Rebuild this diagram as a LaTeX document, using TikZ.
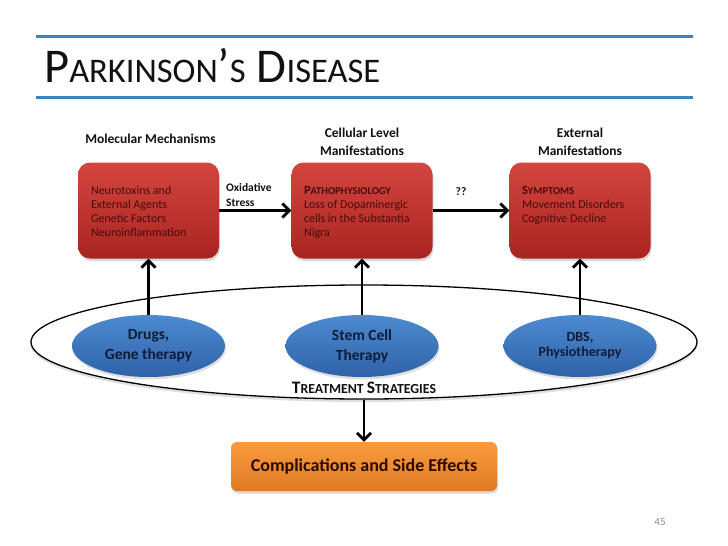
\documentclass[tikz,border=0pt]{standalone}
\usepackage{fontspec}
\setmainfont{Carlito}
\usetikzlibrary{shapes.geometric,shadows,arrows.meta}
\definecolor{lineblue}{HTML}{3A84C0}
\definecolor{redtop}{HTML}{D4463F}
\definecolor{redbot}{HTML}{A82421}
\definecolor{redtext}{HTML}{4A0B0B}
\definecolor{bluetop}{HTML}{4C8AD0}
\definecolor{bluebot}{HTML}{2F62A8}
\definecolor{bluetext}{HTML}{0F1C38}
\definecolor{orangetop}{HTML}{FA9C3E}
\definecolor{orangebot}{HTML}{DE7A24}
\definecolor{orangetext}{HTML}{2A0A02}
\definecolor{pagegray}{HTML}{8C8C8C}
\definecolor{titleblack}{HTML}{111111}
\newcommand\fsz[1]{\fontsize{#1}{#1}\selectfont}
\begin{document}
\begin{tikzpicture}[x=1pt,y=-1pt,
  redbox/.style={rounded corners=12pt, minimum width=141pt, minimum height=96pt, inner sep=0pt,
    top color=redtop, bottom color=redbot,
    drop shadow={shadow xshift=1pt,shadow yshift=-2.5pt,opacity=0.3}},
  boxtext/.style={anchor=north west, inner sep=0pt, align=left, text=redtext,
    font=\fontsize{12}{14}\selectfont},
  head/.style={inner sep=0pt, align=center, text=titleblack,
    font=\bfseries\fontsize{13.5}{18}\selectfont},
  blueell/.style={ellipse, minimum width=153pt, minimum height=62pt, inner sep=0pt,
    top color=bluetop, bottom color=bluebot, align=center, text=bluetext,
    font=\bfseries\fontsize{15.5}{20}\selectfont,
    drop shadow={shadow xshift=1pt,shadow yshift=-2.5pt,opacity=0.25}},
  arr/.style={line width=2.8pt, -{Straight Barb[length=7pt,width=14pt]}}]
\useasboundingbox (0,0) rectangle (728,546);
\fill[white] (0,0) rectangle (728,546);
% title
\draw[lineblue, line width=3pt] (36,36) -- (693,36);
\draw[lineblue, line width=3pt] (36,97) -- (693,97);
\node[anchor=base west, inner sep=0pt, text=titleblack] (title) at (44,82)
  {\fsz{48.5}P\fsz{34.5}ARKINSON\fsz{48.5}’\fsz{34.5}S\fsz{48.5} D\fsz{34.5}ISEASE};
% headings
\node[head, anchor=north] (h1) at (150.5,134) {Molecular Mechanisms};
\node[head, anchor=north] (h2) at (362,128) {Cellular Level\\Manifestations};
\node[head, anchor=north] (h3) at (580,128) {External\\Manifestations};
% red boxes
\node[redbox] (box1) at (148.5,210.5) {};
\node[redbox] (box2) at (362,210.5) {};
\node[redbox] (box3) at (580,210.5) {};
\node[boxtext] (t1) at ([shift={(13,24)}]box1.north west)
  {Neurotoxins and\\External Agents\\Genetic Factors\\Neuroinflammation};
\node[boxtext] (t2) at ([shift={(12.5,24)}]box2.north west)
  {\textbf{\fsz{12.5}P\fsz{10.5}ATHOPHYSIOLOGY}\\Loss of Dopaminergic\\cells in the Substantia\\Nigra};
\node[boxtext] (t3) at ([shift={(12.5,24)}]box3.north west)
  {\textbf{\fsz{12.5}S\fsz{10.5}YMPTOMS}\\Movement Disorders\\Cognitive Decline};
\node[anchor=north west, inner sep=0pt, align=left, text=titleblack,
  font=\bfseries\fontsize{11.5}{15}\selectfont] (ox) at (226,183) {Oxidative\\Stress};
\node[inner sep=0pt, text=titleblack, font=\bfseries\fontsize{11.5}{14}\selectfont] (qq) at (461,192) {??};
\draw[arr] (box1) -- (box2);
\draw[arr] (box2) -- (box3);
% treatment ellipse
\node[ellipse, draw=black, line width=1.3pt, fill=white, minimum width=666pt, minimum height=114pt,
  inner sep=0pt, drop shadow={shadow xshift=0pt,shadow yshift=-3pt,opacity=0.25}] (big) at (364,342) {};
\node[blueell] (e1) at (148.5,346) {Drugs,\\Gene therapy};
\node[blueell] (e2) at (362,346) {Stem Cell\\Therapy};
\node[blueell, font=\bfseries\fontsize{14}{15}\selectfont] (e3) at (580,346) {DBS,\\Physiotherapy};
\draw[arr] (e1) -- (box1);
\draw[arr] (e2) -- (box2);
\draw[arr] (e3) -- (box3);
\node[anchor=base, inner sep=0pt, text=titleblack, font=\bfseries] (ts) at (364,393)
  {\fsz{17.5}T\fsz{13.8}REATMENT \fsz{17.5}S\fsz{13.8}TRATEGIES};
% complications
\node[rounded corners=6pt, minimum width=266pt, minimum height=49pt, inner sep=0pt,
  top color=orangetop, bottom color=orangebot, text=orangetext,
  font=\bfseries\fontsize{18}{20}\selectfont,
  drop shadow={shadow xshift=1pt,shadow yshift=-2.5pt,opacity=0.3}] (comp) at (364,466.5)
  {Complications and Side Effects};
\draw[arr] (big) -- (comp);
\node[anchor=base, inner sep=0pt, text=pagegray, font=\fontsize{11}{11}\selectfont] (pg) at (660,525) {45};
\end{tikzpicture}
\end{document}
